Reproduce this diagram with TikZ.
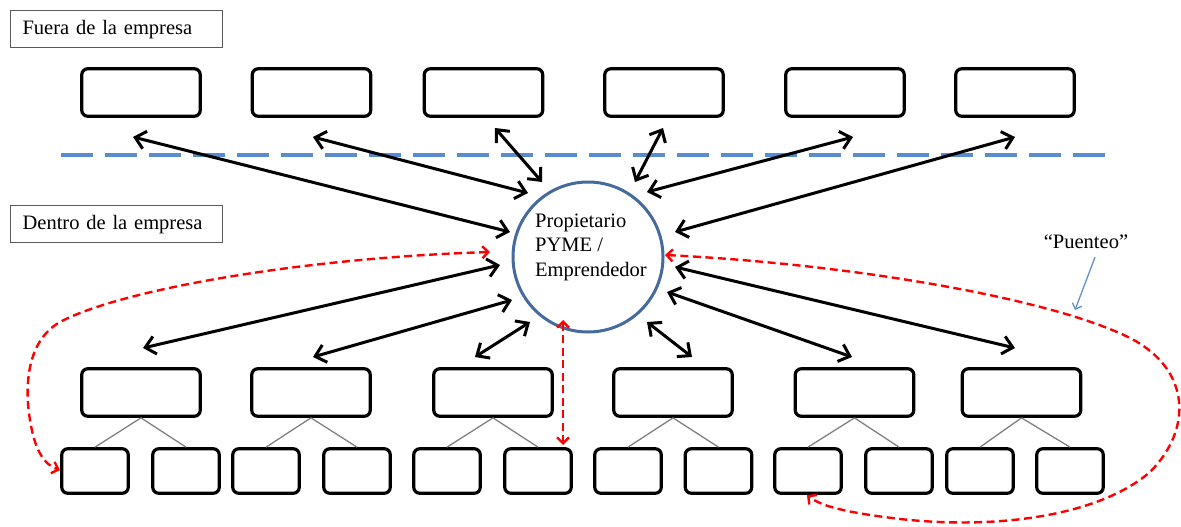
\documentclass[tikz,border=0pt]{standalone}
\usepackage{fontspec}
\setmainfont{Liberation Serif}
\usetikzlibrary{arrows.meta,calc}
\definecolor{dashblue}{RGB}{88,140,208}
\definecolor{circblue}{RGB}{68,106,158}
\definecolor{labgray}{RGB}{90,90,90}
\definecolor{treegray}{RGB}{128,128,128}
\definecolor{noteblue}{RGB}{100,145,200}
\definecolor{bridgered}{RGB}{255,0,0}
\begin{document}
\begin{tikzpicture}[x=1pt,y=-1pt,
  box/.style={draw=black, line width=3.2pt, rounded corners=6pt, minimum width=118.5pt, minimum height=47.5pt, inner sep=0pt},
  sbox/.style={draw=black, line width=3.2pt, rounded corners=6pt, minimum width=66.5pt, minimum height=44.5pt, inner sep=0pt},
  lab/.style={draw=labgray, line width=1.2pt, anchor=north west, minimum height=37pt, text width=188pt, inner xsep=12pt, inner ysep=0pt, align=left, font=\fontsize{20.5}{24}\selectfont},
  txt/.style={font=\fontsize{20.5}{24.5}\selectfont, inner sep=0pt},
  biarrow/.style={draw=black, line width=3pt, {Straight Barb[length=10pt,width=18pt]}-{Straight Barb[length=10pt,width=18pt]}},
  redarrow/.style={draw=bridgered, line width=2.4pt, dash pattern=on 8pt off 4.5pt, {Straight Barb[length=6pt,width=12pt]}-{Straight Barb[length=6pt,width=12pt]}},
  tree/.style={draw=treegray, line width=1.3pt},
  sep/.style={draw=dashblue, line width=4pt, dash pattern=on 32pt off 12pt},
  note/.style={draw=noteblue, line width=1.3pt, -{Straight Barb[length=5pt,width=10pt]}},
]
\useasboundingbox (0,0) rectangle (1181,527);

% labels
\node[lab] (fuera) at (10,10) {Fuera de la empresa};
\node[lab] (dentro) at (10,205) {Dentro de la empresa};

% separator
\coordinate (sepL) at (61,155);
\coordinate (sepR) at (1107,155);
\draw[sep] (sepL) -- (sepR);

% top boxes
\node[box] (T1) at (141,92.5) {};
\node[box] (T2) at (311.5,92.5) {};
\node[box] (T3) at (483.5,92.5) {};
\node[box] (T4) at (664,92.5) {};
\node[box] (T5) at (845,92.5) {};
\node[box] (T6) at (1015,92.5) {};

% middle boxes
\node[box] (M1) at (141,392.5) {};
\node[box] (M2) at (311,392.5) {};
\node[box] (M3) at (493,392.5) {};
\node[box] (M4) at (673,392.5) {};
\node[box] (M5) at (854.5,392.5) {};
\node[box] (M6) at (1021.5,392.5) {};

% bottom boxes
\node[sbox] (B1) at (95,471) {};
\node[sbox] (B2) at (186,471) {};
\node[sbox] (B3) at (266,471) {};
\node[sbox] (B4) at (357,471) {};
\node[sbox] (B5) at (447,471) {};
\node[sbox] (B6) at (538,471) {};
\node[sbox] (B7) at (628,471) {};
\node[sbox] (B8) at (718.5,471) {};
\node[sbox] (B9) at (808,471) {};
\node[sbox] (B10) at (899,471) {};
\node[sbox] (B11) at (980,471) {};
\node[sbox] (B12) at (1070,471) {};

% tree lines
\foreach \m/\a/\b in {M1/B1/B2, M2/B3/B4, M3/B5/B6, M4/B7/B8, M5/B9/B10, M6/B11/B12}{
  \draw[tree] (\m.south) -- (\a.north);
  \draw[tree] (\m.south) -- (\b.north);
}

% central circle
\node[circle, draw=circblue, line width=3pt, minimum size=150pt, inner sep=0pt] (C) at (588,257) {};
\node[txt, align=left] (Ct) at (591,247) {Propietario\\PYME /\\Emprendedor};

% arrow end points
\coordinate (a1) at (133,137);  \coordinate (c1) at (510,232);
\coordinate (a2) at (313,137);  \coordinate (c2) at (528,193);
\coordinate (a3) at (495,128);  \coordinate (c3) at (542,182);
\coordinate (a4) at (663,128);  \coordinate (c4) at (635,182);
\coordinate (a5) at (853,137);  \coordinate (c5) at (647,192);
\coordinate (a6) at (1015,137); \coordinate (c6) at (675,232);
\coordinate (b1) at (143,348);  \coordinate (d1) at (500,265);
\coordinate (b2) at (313,357);  \coordinate (d2) at (512,300);
\coordinate (b3) at (475,357);  \coordinate (d3) at (530,322);
\coordinate (b4) at (692,357);  \coordinate (d4) at (647,322);
\coordinate (b5) at (852,357);  \coordinate (d5) at (667,292);
\coordinate (b6) at (1015,348); \coordinate (d6) at (675,267);

\foreach \i in {1,...,6}{
  \draw[biarrow] (a\i) -- (c\i);
  \draw[biarrow] (b\i) -- (d\i);
}

% bridging (red dashed)
\coordinate (rv1) at (563,320);
\coordinate (rv2) at (563,445);
\draw[redarrow] (rv1) -- (rv2);

\coordinate (rl) at (490,252);
\coordinate (rlb) at (60,470);
\draw[redarrow] (rl) .. controls (300,258) and (120,290) .. (60,322)
  .. controls (25,342) and (25,390) .. (30,420)
  .. controls (35,452) and (45,465) .. (rlb);

\coordinate (rr) at (665,255);
\coordinate (rrb) at (807,495);
\draw[redarrow] (rr) .. controls (850,264) and (1050,298) .. (1130,338)
  .. controls (1192,370) and (1192,430) .. (1150,472)
  .. controls (1100,515) and (1000,530) .. (900,519)
  .. controls (850,513) and (822,507) .. (rrb);

% Puenteo note
\node[txt] (pu) at (1086,242) {“Puenteo”};
\coordinate (pn) at (1075,310);
\draw[note] ($(pu.south)+(9,8)$) -- (pn);
\end{tikzpicture}
\end{document}
